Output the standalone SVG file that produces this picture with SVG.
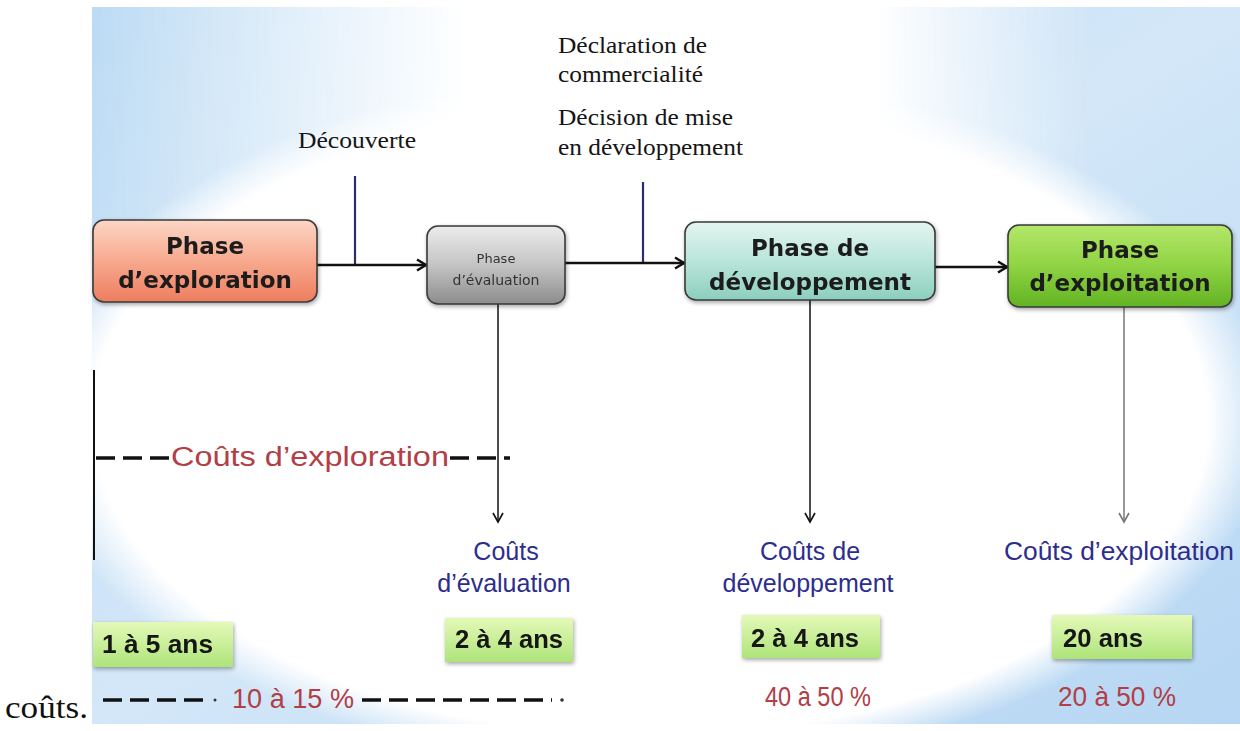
<svg xmlns="http://www.w3.org/2000/svg" width="1240" height="731" viewBox="0 0 1240 731">
<defs>
  <linearGradient id="bgBase" x1="0" y1="0" x2="1" y2="1">
    <stop offset="0" stop-color="#bcdbf4"/>
    <stop offset="0.5" stop-color="#d3e7f8"/>
    <stop offset="1" stop-color="#b6d6f3"/>
  </linearGradient>
  <linearGradient id="topBand" gradientUnits="userSpaceOnUse" x1="92" y1="0" x2="1240" y2="0">
    <stop offset="0" stop-color="#ffffff" stop-opacity="0"/>
    <stop offset="0.33" stop-color="#ffffff" stop-opacity="1"/>
    <stop offset="0.68" stop-color="#ffffff" stop-opacity="1"/>
    <stop offset="0.87" stop-color="#ffffff" stop-opacity="0"/>
  </linearGradient>
  <linearGradient id="topFade" x1="0" y1="0" x2="0" y2="1">
    <stop offset="0" stop-color="#fff" stop-opacity="1"/>
    <stop offset="0.7" stop-color="#fff" stop-opacity="1"/>
    <stop offset="1" stop-color="#fff" stop-opacity="0"/>
  </linearGradient>
  <mask id="topMask"><rect x="92" y="7" width="1148" height="380" fill="url(#topFade)"/></mask>
  <radialGradient id="glow">
    <stop offset="0" stop-color="#ffffff" stop-opacity="1"/>
    <stop offset="0.9" stop-color="#ffffff" stop-opacity="1"/>
    <stop offset="1" stop-color="#ffffff" stop-opacity="0"/>
  </radialGradient>
  <linearGradient id="gExpl" x1="0" y1="0" x2="0" y2="1">
    <stop offset="0" stop-color="#fcd6c6"/>
    <stop offset="0.5" stop-color="#f7a98e"/>
    <stop offset="1" stop-color="#ee7d5f"/>
  </linearGradient>
  <linearGradient id="gEval" x1="0" y1="0" x2="0" y2="1">
    <stop offset="0" stop-color="#ececec"/>
    <stop offset="0.5" stop-color="#c4c4c4"/>
    <stop offset="1" stop-color="#8c8c8c"/>
  </linearGradient>
  <linearGradient id="gDev" x1="0" y1="0" x2="0" y2="1">
    <stop offset="0" stop-color="#e4f5f1"/>
    <stop offset="0.5" stop-color="#b9e5da"/>
    <stop offset="1" stop-color="#8ccfbe"/>
  </linearGradient>
  <linearGradient id="gExpt" x1="0" y1="0" x2="0" y2="1">
    <stop offset="0" stop-color="#b4e86a"/>
    <stop offset="0.5" stop-color="#8fd343"/>
    <stop offset="1" stop-color="#62b323"/>
  </linearGradient>
  <linearGradient id="gTag" x1="0" y1="0" x2="0" y2="1">
    <stop offset="0" stop-color="#e4f9b8"/>
    <stop offset="1" stop-color="#aee47a"/>
  </linearGradient>
  <filter id="shadow" x="-10%" y="-10%" width="120%" height="130%">
    <feGaussianBlur in="SourceAlpha" stdDeviation="2"/>
    <feOffset dx="1" dy="2" result="b"/>
    <feComponentTransfer><feFuncA type="linear" slope="0.35"/></feComponentTransfer>
    <feMerge><feMergeNode/><feMergeNode in="SourceGraphic"/></feMerge>
  </filter>
  <marker id="arrH" markerUnits="userSpaceOnUse" markerWidth="14" markerHeight="14" refX="11" refY="7" orient="auto">
    <path d="M2,1.5 L11,7 L2,12.5" fill="none" stroke="#111" stroke-width="2.5"/>
  </marker>
  <marker id="arrV" markerUnits="userSpaceOnUse" markerWidth="12" markerHeight="12" refX="10" refY="6" orient="auto">
    <path d="M1,1 L10,6 L1,11" fill="none" stroke="#111" stroke-width="1.6"/>
  </marker>
  <marker id="arrVg" markerUnits="userSpaceOnUse" markerWidth="12" markerHeight="12" refX="10" refY="6" orient="auto">
    <path d="M1,1 L10,6 L1,11" fill="none" stroke="#777" stroke-width="1.6"/>
  </marker>
</defs>
<style>
  .box { stroke: #3a3a3a; stroke-width: 1.6; }
  .lbl { font-family: "DejaVu Sans", Verdana, sans-serif; font-weight: bold; fill: #1c1c1c; text-anchor: middle; }
  .ser { font-family: "Liberation Serif", "Times New Roman", serif; fill: #151515; font-size: 24px; }
  .blue { font-family: "Liberation Sans", Arial, sans-serif; fill: #2d2d8e; font-size: 25px; text-anchor: middle; }
  .red { font-family: "Liberation Sans", Arial, sans-serif; fill: #b23e46; font-size: 27px; }
  .tag { fill: url(#gTag); }
  .tagt { font-family: "Liberation Sans", Arial, sans-serif; font-weight: bold; fill: #151515; font-size: 26px; }
  .main { stroke: #111; stroke-width: 2.5; fill: none; }
  .mark { stroke: #2c2c6e; stroke-width: 2.2; }
  .down { stroke: #111; stroke-width: 1.5; fill: none; }
  .dash { stroke: #111; stroke-width: 3.5; stroke-dasharray: 19 8; fill: none; }
</style>

<!-- page + background picture -->
<rect x="0" y="0" width="1240" height="731" fill="#ffffff"/>
<rect x="92" y="7" width="1148" height="717" fill="url(#bgBase)"/>
<rect x="92" y="7" width="1148" height="380" fill="url(#topBand)" mask="url(#topMask)"/>
<ellipse cx="650" cy="420" rx="620" ry="350" fill="url(#glow)"/>

<text x="5" y="718" font-family="Liberation Serif, Times New Roman, serif" font-size="32" fill="#111" textLength="83" lengthAdjust="spacingAndGlyphs">coûts.</text>

<!-- milestone labels -->
<g id="decouverte">
  <text class="ser" x="298" y="148" textLength="118" lengthAdjust="spacingAndGlyphs">Découverte</text>
</g>
<g id="declaration">
  <text class="ser" x="558" y="53" textLength="149" lengthAdjust="spacingAndGlyphs">Déclaration de</text>
  <text class="ser" x="558" y="82" textLength="145" lengthAdjust="spacingAndGlyphs">commercialité</text>
  <text class="ser" x="558" y="125" textLength="175" lengthAdjust="spacingAndGlyphs">Décision de mise</text>
  <text class="ser" x="558" y="155" textLength="185" lengthAdjust="spacingAndGlyphs">en développement</text>
</g>

<!-- connectors -->
<g id="connectors">
  <line class="mark" x1="355" y1="176" x2="355" y2="265"/>
  <line class="mark" x1="643" y1="182" x2="643" y2="263"/>
  <line class="main" x1="317" y1="265" x2="426" y2="265" marker-end="url(#arrH)"/>
  <line class="main" x1="565" y1="263" x2="684" y2="263" marker-end="url(#arrH)"/>
  <line class="main" x1="935" y1="267" x2="1007" y2="267" marker-end="url(#arrH)"/>
  <line class="down" x1="498" y1="304" x2="498" y2="522" marker-end="url(#arrV)"/>
  <line class="down" x1="810" y1="300" x2="810" y2="522" marker-end="url(#arrV)"/>
  <line x1="1124" y1="307" x2="1124" y2="522" stroke="#777" stroke-width="1.5" marker-end="url(#arrVg)"/>
  <!-- exploration cost bracket -->
  <line x1="94" y1="370" x2="94" y2="560" stroke="#111" stroke-width="2"/>
  <line class="dash" x1="96" y1="458" x2="170" y2="458" stroke-dasharray="18 8"/>
  <line class="dash" x1="450" y1="458" x2="510" y2="458" stroke-dasharray="16 8"/>
  <!-- percent row dashes -->
  <line class="dash" x1="103" y1="700" x2="205" y2="700" stroke-dasharray="20 7"/>
  <circle cx="215" cy="700" r="1.5" fill="#333"/>
  <line class="dash" x1="362" y1="700" x2="552" y2="700" stroke-dasharray="20 7"/>
  <circle cx="562" cy="700" r="1.8" fill="#333"/>
</g>

<!-- phase nodes -->
<g id="phase-exploration" filter="url(#shadow)">
  <rect class="box" x="93" y="220" width="224" height="82" rx="11" fill="url(#gExpl)"/>
  <text class="lbl" x="205" y="254" font-size="23">Phase</text>
  <text class="lbl" x="205" y="288" font-size="23">d’exploration</text>
</g>
<g id="phase-evaluation" filter="url(#shadow)">
  <rect class="box" x="427" y="226" width="138" height="78" rx="11" fill="url(#gEval)"/>
  <text class="lbl" x="496" y="263" font-size="13" style="font-weight:normal;fill:#333">Phase</text>
  <text class="lbl" x="496" y="285" font-size="14" style="font-weight:normal;fill:#333">d’évaluation</text>
</g>
<g id="phase-developpement" filter="url(#shadow)">
  <rect class="box" x="685" y="222" width="250" height="78" rx="11" fill="url(#gDev)"/>
  <text class="lbl" x="810" y="256" font-size="23">Phase de</text>
  <text class="lbl" x="810" y="290" font-size="23">développement</text>
</g>
<g id="phase-exploitation" filter="url(#shadow)">
  <rect class="box" x="1008" y="225" width="224" height="82" rx="11" fill="url(#gExpt)"/>
  <text class="lbl" x="1120" y="258" font-size="23">Phase</text>
  <text class="lbl" x="1120" y="291" font-size="23">d’exploitation</text>
</g>

<!-- cost labels -->
<g id="cout-exploration">
  <text class="red" x="171" y="466" font-family="DejaVu Sans, sans-serif" font-size="25" textLength="278" lengthAdjust="spacingAndGlyphs">Coûts d’exploration</text>
</g>
<g id="cout-evaluation">
  <text class="blue" x="506" y="560">Coûts</text>
  <text class="blue" x="504" y="592">d’évaluation</text>
</g>
<g id="cout-developpement">
  <text class="blue" x="810" y="560">Coûts de</text>
  <text class="blue" x="808" y="592">développement</text>
</g>
<g id="cout-exploitation">
  <text class="blue" x="1119" y="560" textLength="230" lengthAdjust="spacingAndGlyphs">Coûts d’exploitation</text>
</g>

<!-- duration tags -->
<g id="duree-exploration" filter="url(#shadow)">
  <rect class="tag" x="93" y="622" width="140" height="45"/>
  <text class="tagt" x="102" y="653" textLength="111" lengthAdjust="spacingAndGlyphs">1 à 5 ans</text>
</g>
<g id="duree-evaluation" filter="url(#shadow)">
  <rect class="tag" x="445" y="618" width="128" height="44"/>
  <text class="tagt" x="455" y="648" textLength="108" lengthAdjust="spacingAndGlyphs">2 à 4 ans</text>
</g>
<g id="duree-developpement" filter="url(#shadow)">
  <rect class="tag" x="742" y="615" width="138" height="43"/>
  <text class="tagt" x="751" y="647" textLength="108" lengthAdjust="spacingAndGlyphs">2 à 4 ans</text>
</g>
<g id="duree-exploitation" filter="url(#shadow)">
  <rect class="tag" x="1052" y="615" width="140" height="44"/>
  <text class="tagt" x="1063" y="647" textLength="80" lengthAdjust="spacingAndGlyphs">20 ans</text>
</g>

<!-- percentages -->
<g id="pct">
  <text class="red" x="232" y="708" textLength="122" lengthAdjust="spacingAndGlyphs">10 à 15 %</text>
  <text class="red" x="765" y="706" textLength="106" lengthAdjust="spacingAndGlyphs">40 à 50 %</text>
  <text class="red" x="1058" y="706" textLength="118" lengthAdjust="spacingAndGlyphs">20 à 50 %</text>
</g>
</svg>
